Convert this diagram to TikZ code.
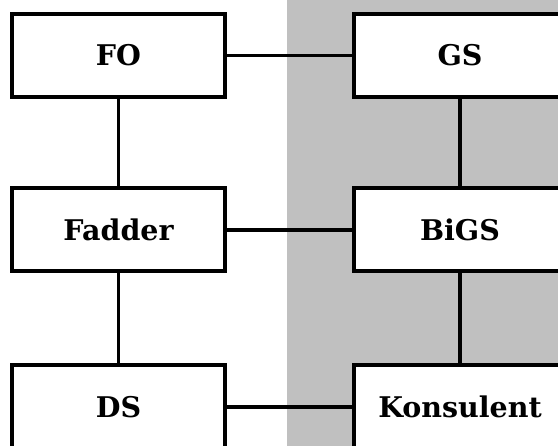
\documentclass[tikz,border=0pt]{standalone}
\usepackage{fontspec}
\setmainfont{DejaVu Serif}
\usepackage{tikz}
\usetikzlibrary{positioning}
\definecolor{bandgray}{RGB}{192,192,192}

\begin{document}
\begin{tikzpicture}[x=1pt,y=-1pt,font=\bfseries\fontsize{28.5}{32}\selectfont,every path/.style={line width=3.5pt},box/.style={draw,line width=4pt,fill=white,minimum width=213pt,minimum height=83pt,inner sep=0pt}]
	\useasboundingbox (0,0) rectangle (558,446);
	\fill[bandgray] (287,0) rectangle (558,446);

	\node[box] (fo) at (118.5,55.5) {FO};
	\node[box] (gs) at (460,55.5) {GS};
	\node[box] (fadder) at (118.5,230) {Fadder};
	\node[box] (bigs) at (460,230) {BiGS};
	\node[box] (ds) at (118.5,407) {DS};
	\node[box] (konsulent) at (460,407) {Konsulent};

	\draw (fo) -- (gs);
	\draw (fadder) -- (bigs);
	\draw (ds) -- (konsulent);
	\draw (fo) -- (fadder);
	\draw (fadder) -- (ds);
	\draw (gs) -- (bigs);
	\draw (bigs) -- (konsulent);
\end{tikzpicture}
\end{document}
